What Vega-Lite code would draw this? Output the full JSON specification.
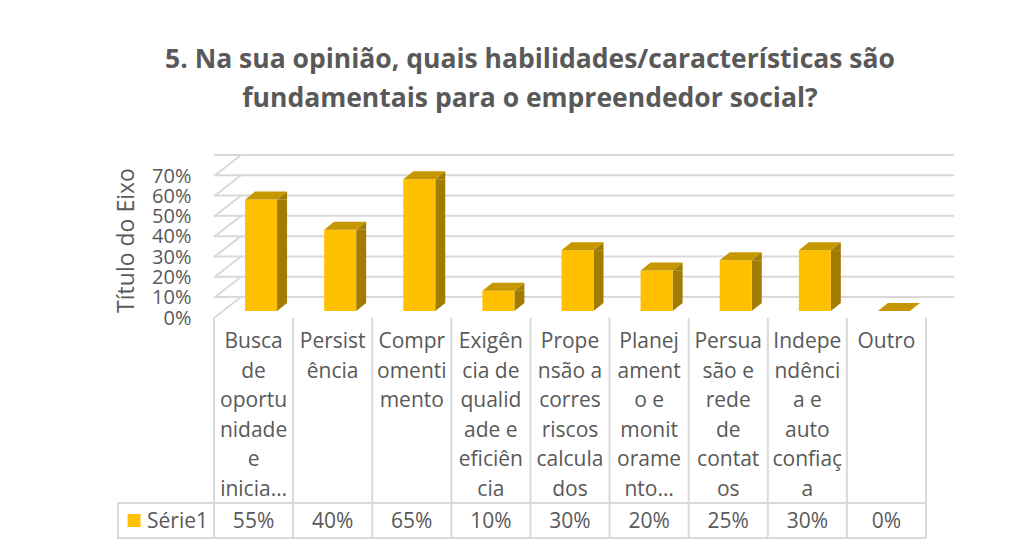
{
  "$schema": "https://vega.github.io/schema/vega-lite/v6.json",
  "autosize": {"type": "none"},
  "padding": {"left": 214, "top": 169, "right": 109, "bottom": 236},
  "width": 712,
  "height": 142,
  "background": "white",
  "config": {"font": "Open Sans", "view": {"stroke": null}, "axis": {"labelOverlap": false}},
  "title": {
    "text": ["5. Na sua opinião, quais habilidades/características são", "fundamentais para o empreendedor social?"],
    "font": "Open Sans",
    "fontSize": 26.5,
    "fontWeight": "bold",
    "color": "#595959",
    "lineHeight": 39,
    "anchor": "middle",
    "dx": -40,
    "offset": 39
  },
  "datasets": {
    "dados": [
      {"categoria": "Busca de oportunidade e iniciativa", "rotulo": "Busca\nde\noportu\nnidade\ne\ninicia…", "valor": 0.55},
      {"categoria": "Persistência", "rotulo": "Persist\nência", "valor": 0.40},
      {"categoria": "Comprometimento", "rotulo": "Compr\nomenti\nmento", "valor": 0.65},
      {"categoria": "Exigência de qualidade e eficiência", "rotulo": "Exigên\ncia de\nqualid\nade e\neficiên\ncia", "valor": 0.10},
      {"categoria": "Propensão a correr riscos calculados", "rotulo": "Prope\nnsão a\ncorres\nriscos\ncalcula\ndos", "valor": 0.30},
      {"categoria": "Planejamento e monitoramento", "rotulo": "Planej\nament\no e\nmonit\norame\nnto…", "valor": 0.20},
      {"categoria": "Persuasão e rede de contatos", "rotulo": "Persua\nsão e\nrede\nde\ncontat\nos", "valor": 0.25},
      {"categoria": "Independência e autoconfiança", "rotulo": "Indepe\nndênci\na e\nauto\nconfiaç\na", "valor": 0.30},
      {"categoria": "Outro", "rotulo": "Outro", "valor": 0.0}
    ],
    "grade": [{"t": 0}, {"t": 0.1}, {"t": 0.2}, {"t": 0.3}, {"t": 0.4}, {"t": 0.5}, {"t": 0.6}, {"t": 0.7}],
    "serie": [{"serie": "Série1"}]
  },
  "data": {"name": "dados"},
  "encoding": {
    "x": {"field": "categoria", "type": "nominal", "sort": null,
          "scale": {"paddingInner": 0, "paddingOuter": 0},
          "axis": null},
    "y": {"type": "quantitative",
          "scale": {"domain": [0, 0.7], "nice": false},
          "axis": {"values": [0, 0.1, 0.2, 0.3, 0.4, 0.5, 0.6, 0.7], "tickCount": 8, "format": ".0%",
                   "domain": false, "ticks": false, "grid": false, "labelOverlap": false,
                   "labelOffset": 7, "labelPadding": 23, "labelFontSize": 20, "labelColor": "#595959",
                   "labelFont": "Open Sans",
                   "title": "Título do Eixo", "titleFont": "Open Sans", "titleFontSize": 23, "titleFontWeight": "normal",
                   "titleColor": "#595959", "titlePadding": 13}}
  },
  "layer": [
    {
      "data": {"name": "grade"},
      "mark": {"type": "rule", "color": "#D9D9D9", "strokeWidth": 2, "xOffset": 28, "x2Offset": 28, "yOffset": -14},
      "encoding": {
        "x": null,
        "y": {"field": "t", "type": "quantitative"}
      }
    },
    {
      "data": {"name": "grade"},
      "mark": {"type": "point", "shape": "M -39.5 7 L -12.5 -14", "size": 4, "filled": false,
               "stroke": "#D9D9D9", "strokeWidth": 2, "opacity": 1},
      "encoding": {
        "x": {"datum": "Busca de oportunidade e iniciativa"},
        "y": {"field": "t", "type": "quantitative"}
      }
    },
    {
      "mark": {"type": "rule", "color": "#D9D9D9", "strokeWidth": 2, "yOffset": 7, "y2Offset": 227},
      "encoding": {
        "x": {"field": "categoria", "type": "nominal", "sort": null, "bandPosition": 0},
        "y": {"datum": 0},
        "y2": {"datum": 0}
      }
    },
    {
      "transform": [{"filter": "datum.categoria === 'Outro'"}],
      "mark": {"type": "rule", "color": "#D9D9D9", "strokeWidth": 2, "yOffset": 7, "y2Offset": 227},
      "encoding": {
        "x": {"field": "categoria", "type": "nominal", "sort": null, "bandPosition": 1},
        "y": {"datum": 0},
        "y2": {"datum": 0}
      }
    },
    {
      "data": {"name": "serie"},
      "mark": {"type": "rule", "color": "#D9D9D9", "strokeWidth": 2, "yOffset": 192},
      "encoding": {"x": null, "y": {"datum": 0}}
    },
    {
      "data": {"name": "serie"},
      "mark": {"type": "rule", "color": "#D9D9D9", "strokeWidth": 2, "yOffset": 227},
      "encoding": {"x": null, "y": {"datum": 0}}
    },
    {
      "data": {"name": "serie"},
      "mark": {"type": "point", "shape": "M -39.5 192 L -135.5 192 L -135.5 227 L -39.5 227", "size": 4,
               "filled": false, "stroke": "#D9D9D9", "strokeWidth": 2, "opacity": 1},
      "encoding": {"x": {"datum": "Busca de oportunidade e iniciativa"}, "y": {"datum": 0}}
    },
    {
      "transform": [{"filter": "datum.valor > 0"}],
      "mark": {"type": "bar", "color": "#A27C00", "width": 10, "xOffset": 28.5, "y2Offset": -8},
      "encoding": {
        "y": {"field": "valor", "type": "quantitative"},
        "y2": {"datum": 0}
      }
    },
    {
      "transform": [{"filter": "datum.valor > 0"}],
      "mark": {"type": "point", "shape": "M 23.5 0 L 33.5 -8 L 33.5 0 Z", "size": 4, "filled": true,
               "color": "#A27C00", "strokeWidth": 0, "opacity": 1},
      "encoding": {"y": {"field": "valor", "type": "quantitative"}}
    },
    {
      "transform": [{"filter": "datum.valor > 0"}],
      "mark": {"type": "point", "shape": "M 23.5 -8 L 33.5 -8 L 23.5 0 Z", "size": 4, "filled": true,
               "color": "#A27C00", "strokeWidth": 0, "opacity": 1},
      "encoding": {"y": {"datum": 0}}
    },
    {
      "mark": {"type": "bar", "color": "#FFC000", "width": 32, "xOffset": 7.5},
      "encoding": {"y": {"field": "valor", "type": "quantitative"}}
    },
    {
      "mark": {"type": "point", "shape": "M -8.5 0 L 23.5 0 L 33.5 -8 L 1.5 -8 Z", "size": 4, "filled": true,
               "color": "#C69700", "strokeWidth": 0, "opacity": 1},
      "encoding": {"y": {"field": "valor", "type": "quantitative"}}
    },
    {
      "mark": {"type": "text", "lineBreak": "\n", "lineHeight": 29.5, "fontSize": 21, "color": "#595959",
               "baseline": "alphabetic", "align": "center", "yOffset": 37},
      "encoding": {"y": {"datum": 0}, "text": {"field": "rotulo"}}
    },
    {
      "mark": {"type": "text", "fontSize": 21, "color": "#595959", "baseline": "alphabetic", "align": "center", "yOffset": 217},
      "encoding": {"y": {"datum": 0}, "text": {"field": "valor", "type": "quantitative", "format": ".0%"}}
    },
    {
      "data": {"name": "serie"},
      "mark": {"type": "point", "shape": "square", "size": 169, "filled": true, "color": "#FFC000",
               "strokeWidth": 0, "opacity": 1, "xOffset": -119.5, "yOffset": 209.5},
      "encoding": {"x": {"datum": "Busca de oportunidade e iniciativa"}, "y": {"datum": 0}}
    },
    {
      "data": {"name": "serie"},
      "mark": {"type": "text", "fontSize": 21, "color": "#595959", "baseline": "alphabetic", "align": "left",
               "xOffset": -106.5, "yOffset": 217},
      "encoding": {"x": {"datum": "Busca de oportunidade e iniciativa"}, "y": {"datum": 0}, "text": {"field": "serie"}}
    }
  ]
}
